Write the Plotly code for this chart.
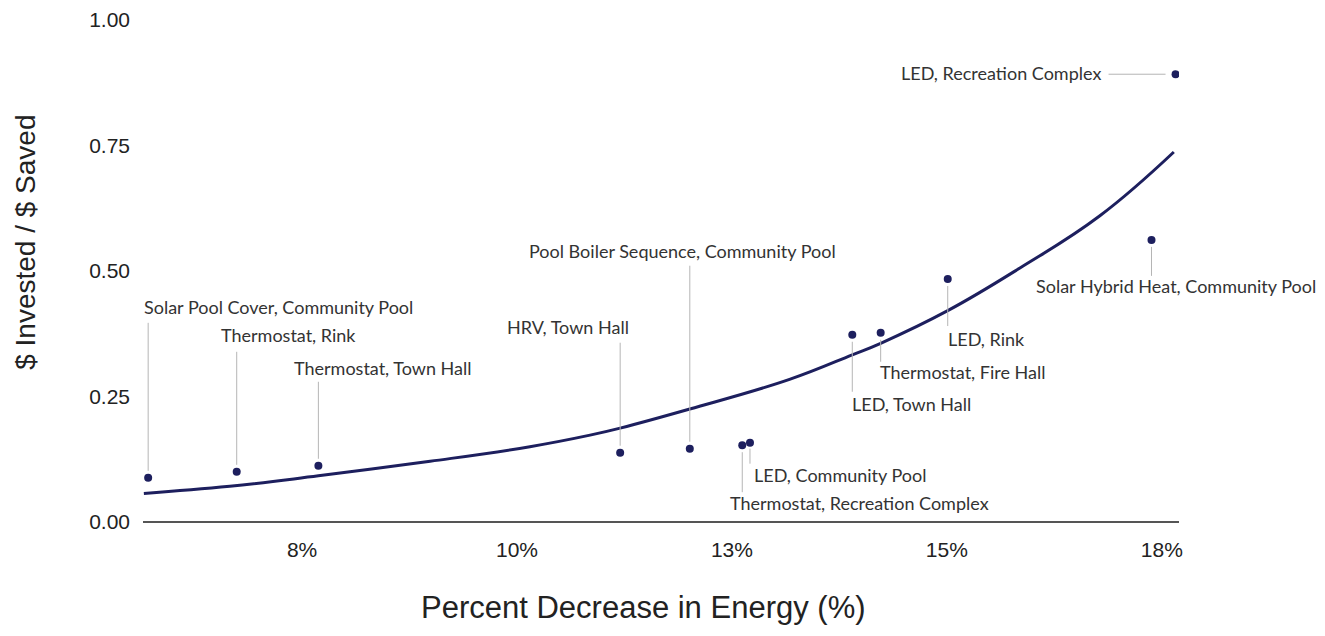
import plotly.graph_objects as go

# measured projects
project_labels = [
    "Solar Pool Cover, Community Pool",
    "Thermostat, Rink",
    "Thermostat, Town Hall",
    "HRV, Town Hall",
    "Pool Boiler Sequence, Community Pool",
    "Thermostat, Recreation Complex",
    "LED, Community Pool",
    "LED, Town Hall",
    "Thermostat, Fire Hall",
    "LED, Rink",
    "Solar Hybrid Heat, Community Pool",
    "LED, Recreation Complex",
]
pct_decrease = [5.71, 6.74, 7.69, 11.20, 12.01, 12.62, 12.71, 13.90, 14.23, 15.01, 17.38, 17.66]
cost_ratio = [0.088, 0.100, 0.112, 0.138, 0.146, 0.153, 0.158, 0.373, 0.377, 0.484, 0.562, 0.892]

# exponential trendline
trend_x = [5.66, 6.66, 7.69, 8.99, 10.15, 10.85, 11.20, 12.01, 13.17, 13.90, 14.23, 15.01, 15.85, 16.78, 17.64]
trend_y = [0.057, 0.071, 0.092, 0.121, 0.150, 0.173, 0.187, 0.225, 0.284, 0.333, 0.356, 0.421, 0.506, 0.610, 0.737]

x_tickvals = [7.5, 10, 12.5, 15, 17.5]
x_ticktext = ["8%", "10%", "13%", "15%", "18%"]
y_tickvals = [0, 0.25, 0.5, 0.75, 1.0]

# label placement (pixels): text x shift, text y shift, leader start, leader end, anchor
label_style = [
    (-6, 171, 7, 155, "left", "v"),
    (-18, 137, 7, 120, "left", "v"),
    (-26, 98, 7, 84, "left", "v"),
    (-115, 126, 7, 110, "left", "v"),
    (-163, 198, 7, 183, "left", "v"),
    (-14, -58, -7, -47, "left", "v"),
    (2, -32, -6, -21, "left", "v"),
    (-2, -69, -7, -57, "left", "v"),
    (-3, -39, -7, -29, "left", "v"),
    (-2, -60, -7, -47, "left", "v"),
    (-117, -46, -7, -36, "left", "v"),
    (-73, 1, -10, -67, "right", "h"),
]

navy = "#1d1f5e"
text_font = dict(family="Liberation Sans, Arial, sans-serif", color="#222222")

fig = go.Figure()

fig.add_trace(
    go.Scatter(
        x=trend_x,
        y=trend_y,
        mode="lines",
        line=dict(color=navy, width=3, shape="spline", smoothing=1.2),
        hoverinfo="skip",
        showlegend=False,
    )
)

fig.add_trace(
    go.Scatter(
        x=pct_decrease,
        y=cost_ratio,
        mode="markers",
        marker=dict(color=navy, size=8),
        text=project_labels,
        hovertemplate="%{text}<br>%{x:.1f}%<br>%{y:.2f}<extra></extra>",
        showlegend=False,
    )
)

for label, px, py, style in zip(project_labels, pct_decrease, cost_ratio, label_style):
    dx, dy, l0, l1, anchor, direction = style
    fig.add_annotation(
        x=px, y=py, text=label, showarrow=False,
        xanchor=anchor, yanchor="middle", xshift=dx, yshift=dy,
        font=dict(family="Lato, Carlito, sans-serif", size=18, color="#333333"),
    )
    if direction == "v":
        fig.add_shape(
            type="line", xref="x", yref="y",
            xsizemode="pixel", ysizemode="pixel",
            xanchor=px, yanchor=py, x0=0, x1=0, y0=l0, y1=l1,
            line=dict(color="#b5b5b5", width=1),
        )
    else:
        fig.add_shape(
            type="line", xref="x", yref="y",
            xsizemode="pixel", ysizemode="pixel",
            xanchor=px, yanchor=py, x0=l0, x1=l1, y0=0, y1=0,
            line=dict(color="#b5b5b5", width=1),
        )

# axis titles
fig.add_annotation(
    text="Percent Decrease in Energy (%)", xref="paper", yref="paper",
    x=0.483, y=-0.171, showarrow=False, xanchor="center", yanchor="middle",
    font=dict(size=31, **text_font),
)
fig.add_annotation(
    text="$ Invested / $ Saved", xref="paper", yref="paper",
    x=-0.113, y=0.558, showarrow=False, textangle=-90,
    xanchor="center", yanchor="middle",
    font=dict(size=28, **text_font),
)

fig.update_layout(
    width=1325,
    height=636,
    margin=dict(l=135, r=154, t=12, b=122),
    plot_bgcolor="white",
    paper_bgcolor="white",
    showlegend=False,
)

fig.update_xaxes(
    range=[5.65, 17.70],
    tickvals=x_tickvals,
    ticktext=x_ticktext,
    showgrid=False,
    zeroline=False,
    showline=False,
    ticks="",
    ticklabelstandoff=13,
    tickfont=dict(size=21, **text_font),
    automargin=False,
)

fig.update_yaxes(
    range=[0, 1.0],
    tickvals=y_tickvals,
    tickformat=".2f",
    showgrid=False,
    zeroline=True,
    zerolinecolor="#555555",
    zerolinewidth=2,
    showline=False,
    ticks="",
    ticklabelstandoff=12,
    tickfont=dict(size=21, **text_font),
    automargin=False,
)

fig.write_html("out.html")
